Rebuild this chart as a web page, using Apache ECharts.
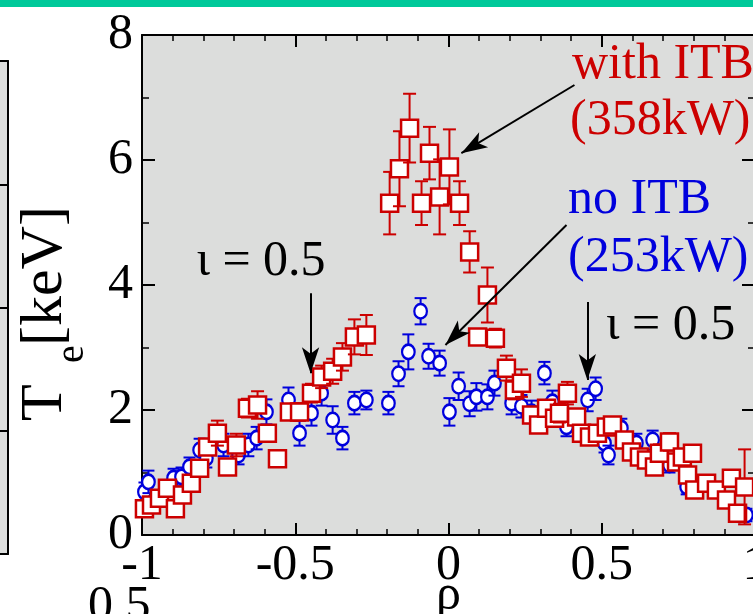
<!DOCTYPE html>
<html>
<head>
<meta charset="utf-8">
<script src="https://cdn.jsdelivr.net/npm/echarts@6/dist/echarts.min.js"></script>
<style>
  html, body { margin: 0; padding: 0; background: #fff; }
  #chart { width: 753px; height: 614px; }
</style>
</head>
<body>
<div id="chart"></div>
<script>
// with ITB (358kW): rho, Te [keV], error
const redRho = [-0.992, -0.969, -0.943, -0.917, -0.891, -0.868, -0.839, -0.812, -0.786, -0.754,
  -0.721, -0.692, -0.656, -0.623, -0.591, -0.558, -0.519, -0.486, -0.447, -0.414,
  -0.378, -0.346, -0.307, -0.268, -0.192, -0.160, -0.127, -0.088, -0.062, -0.029,
  0.003, 0.036, 0.069, 0.127, 0.095, 0.153, 0.189, 0.215, 0.238, 0.271,
  0.294, 0.320, 0.346, 0.362, 0.388, 0.418, 0.434, 0.460, 0.486, 0.515,
  0.535, 0.574, 0.597, 0.623, 0.646, 0.672, 0.688, 0.721, 0.744, 0.763,
  0.780, 0.796, 0.803, 0.842, 0.874, 0.907, 0.923, 0.943, 0.966];
const redTe = [0.42, 0.48, 0.59, 0.75, 0.42, 0.64, 0.83, 1.07, 1.41, 1.63,
  1.09, 1.44, 2.03, 2.08, 1.63, 1.22, 1.97, 1.97, 2.27, 2.53,
  2.62, 2.85, 3.17, 3.20, 5.31, 5.86, 6.51, 5.31, 6.11, 5.41,
  5.89, 5.31, 4.53, 3.84, 3.17, 3.15, 2.67, 2.32, 2.43, 1.92,
  1.76, 2.03, 1.87, 1.95, 2.27, 1.89, 1.63, 1.57, 1.63, 1.73,
  1.76, 1.52, 1.33, 1.25, 1.20, 1.09, 1.31, 1.49, 1.17, 1.25,
  0.96, 1.31, 0.72, 0.83, 0.72, 0.56, 0.91, 0.35, 0.77];
const redErr = [0.05, 0.06, 0.07, 0.08, 0.06, 0.07, 0.08, 0.10, 0.12, 0.20,
  0.10, 0.18, 0.15, 0.22, 0.10, 0.08, 0.12, 0.14, 0.15, 0.18,
  0.20, 0.22, 0.28, 0.32, 0.50, 0.60, 0.55, 0.35, 0.42, 0.60,
  0.60, 0.35, 0.33, 0.44, 0.12, 0.15, 0.20, 0.15, 0.22, 0.12,
  0.10, 0.12, 0.12, 0.15, 0.18, 0.12, 0.10, 0.10, 0.10, 0.12,
  0.12, 0.10, 0.10, 0.10, 0.10, 0.08, 0.14, 0.14, 0.10, 0.10,
  0.08, 0.12, 0.08, 0.08, 0.08, 0.08, 0.12, 0.06, 0.60];

// no ITB (253kW)
const blueRho = [-0.992, -0.979, -0.897, -0.871, -0.845, -0.812, -0.790, -0.734, -0.685, -0.653,
  -0.626, -0.594, -0.522, -0.486, -0.447, -0.414, -0.378, -0.346, -0.307, -0.268,
  -0.196, -0.163, -0.131, -0.091, -0.065, -0.029, 0.003, 0.033, 0.069, 0.091,
  0.127, 0.150, 0.206, 0.238, 0.271, 0.313, 0.339, 0.385, 0.454, 0.480,
  0.509, 0.522, 0.564, 0.613, 0.666, 0.721, 0.777, 0.949, 0.972];
const blueTe = [0.69, 0.85, 0.91, 0.93, 1.09, 1.36, 1.23, 1.44, 1.28, 1.44,
  1.55, 1.97, 2.16, 1.63, 1.95, 2.27, 1.84, 1.55, 2.11, 2.16,
  2.11, 2.58, 2.93, 3.58, 2.86, 2.75, 1.97, 2.38, 2.10, 2.21,
  2.21, 2.43, 2.11, 2.06, 1.97, 2.59, 2.13, 1.73, 2.16, 2.34,
  1.47, 1.28, 1.71, 1.47, 1.52, 1.12, 0.77, 0.32, 0.32];
const blueErr = [0.15, 0.18, 0.15, 0.15, 0.15, 0.18, 0.15, 0.18, 0.15, 0.18,
  0.18, 0.20, 0.20, 0.20, 0.20, 0.20, 0.22, 0.18, 0.18, 0.15,
  0.18, 0.20, 0.28, 0.21, 0.20, 0.20, 0.22, 0.22, 0.20, 0.22,
  0.20, 0.20, 0.18, 0.18, 0.18, 0.18, 0.18, 0.15, 0.18, 0.18,
  0.15, 0.15, 0.15, 0.15, 0.15, 0.12, 0.12, 0.10, 0.10];

const xTicks = [-1, -0.5, 0, 0.5, 1];
const yTicks = [0, 2, 4, 6, 8];

// arrows: [from, to] in data coords
const arrows = [
  [[-0.45, 3.87], [-0.45, 2.59]],
  [[0.453, 3.73], [0.453, 2.48]],
  [[0.411, 7.2], [0.042, 6.11]],
  [[0.385, 4.96], [-0.01, 3.04]],
];

const RED = "#cc0000";
const BLUE = "#0000dd";
const FONT = "'Liberation Serif', 'Times New Roman', serif";

function zip(xs, ys, es) {
  return xs.map((x, i) => [x, ys[i], es[i]]);
}

function errRender(kind) {
  return function (params, api) {
    const x = api.value(0), y = api.value(1), e = api.value(2);
    const c = api.coord([x, y]);
    const t = api.coord([x, y + e]);
    const b = api.coord([x, y - e]);
    const color = kind === "red" ? RED : BLUE;
    const cap = kind === "red" ? 6.5 : 6;
    const ls = { stroke: color, lineWidth: 2 };
    const children = [
      { type: "line", shape: { x1: c[0], y1: t[1], x2: c[0], y2: b[1] }, style: ls },
      { type: "line", shape: { x1: c[0] - cap, y1: t[1], x2: c[0] + cap, y2: t[1] }, style: ls },
      { type: "line", shape: { x1: c[0] - cap, y1: b[1], x2: c[0] + cap, y2: b[1] }, style: ls },
    ];
    if (kind === "red") {
      children.push({ type: "rect", shape: { x: c[0] - 8.5, y: c[1] - 8.5, width: 17, height: 17 },
        style: { fill: "#fff", stroke: RED, lineWidth: 2.5 } });
    } else {
      children.push({ type: "circle", x: c[0], y: c[1], scaleY: 1.15, shape: { cx: 0, cy: 0, r: 6.3 },
        style: { fill: "#fff", stroke: BLUE, lineWidth: 2.2 } });
    }
    return { type: "group", children };
  };
}

const tickLabel = { color: "#000", fontFamily: FONT, fontSize: 50 };
const blackLine = { lineStyle: { color: "#000", width: 2 } };

const chart = echarts.init(document.getElementById("chart"), null, { renderer: "canvas" });

chart.setOption({
  animation: false,
  backgroundColor: "#fff",
  grid: [
    { left: 142, top: 35, width: 613, height: 500, show: true, backgroundColor: "#dcdddc", borderWidth: 0,
      outerBoundsMode: "none", containLabel: false },
    { left: -100, top: 61, width: 108, height: 493, show: true, backgroundColor: "#dcdddc", borderWidth: 0,
      outerBoundsMode: "none", containLabel: false },
  ],
  xAxis: [
    {
      gridIndex: 0, type: "value", min: -1, max: 1, interval: 0.5, position: "bottom",
      name: "ρ", nameLocation: "middle", nameGap: 36, nameMoveOverlap: false,
      nameTextStyle: { color: "#000", fontFamily: FONT, fontSize: 50 },
      axisLine: { show: true, onZero: false, ...blackLine },
      axisTick: { show: true, inside: true, length: 12, ...blackLine },
      minorTick: { show: true, splitNumber: 5, length: 6, lineStyle: { color: "#000", width: 1.5 } },
      axisLabel: { ...tickLabel, margin: 6, formatter: (v) => (xTicks.includes(v) ? String(v) : "") },
      splitLine: { show: false },
    },
    {
      gridIndex: 0, type: "value", min: -1, max: 1, interval: 0.5, position: "top",
      axisLine: { show: true, onZero: false, ...blackLine },
      axisTick: { show: true, inside: true, length: 12, ...blackLine },
      minorTick: { show: true, splitNumber: 5, length: 6, lineStyle: { color: "#000", width: 1.5 } },
      axisLabel: { show: false },
      splitLine: { show: false },
    },
    {
      gridIndex: 1, type: "value", min: 0, max: 1, position: "bottom",
      axisLine: { show: true, onZero: false, ...blackLine },
      axisTick: { show: false }, axisLabel: { show: false }, splitLine: { show: false },
    },
    {
      gridIndex: 1, type: "value", min: 0, max: 1, position: "top",
      axisLine: { show: true, onZero: false, ...blackLine },
      axisTick: { show: false }, axisLabel: { show: false }, splitLine: { show: false },
    },
  ],
  yAxis: [
    {
      gridIndex: 0, type: "value", min: 0, max: 8, interval: 2, position: "left",
      axisLine: { show: true, onZero: false, ...blackLine },
      axisTick: { show: true, inside: true, length: 13, ...blackLine },
      minorTick: { show: true, splitNumber: 2, length: 7, lineStyle: { color: "#000", width: 1.5 } },
      axisLabel: { ...tickLabel, margin: 9, formatter: (v) => (yTicks.includes(v) ? String(v) : "") },
      splitLine: { show: false },
    },
    {
      gridIndex: 0, type: "value", min: 0, max: 8, interval: 2, position: "right",
      axisLine: { show: true, onZero: false, ...blackLine },
      axisTick: { show: true, inside: true, length: 13, ...blackLine },
      minorTick: { show: true, splitNumber: 2, length: 7, lineStyle: { color: "#000", width: 1.5 } },
      axisLabel: { show: false },
      splitLine: { show: false },
    },
    {
      gridIndex: 1, type: "value", min: 0, max: 4, interval: 1, position: "right",
      axisLine: { show: true, onZero: false, ...blackLine },
      axisTick: { show: true, inside: true, length: 8, ...blackLine },
      axisLabel: { show: false }, splitLine: { show: false },
    },
  ],
  series: [
    {
      name: "no ITB (253kW)", type: "custom", xAxisIndex: 0, yAxisIndex: 0,
      data: zip(blueRho, blueTe, blueErr), encode: { x: 0, y: 1 },
      renderItem: errRender("blue"), z: 2, silent: true,
    },
    {
      name: "with ITB (358kW)", type: "custom", xAxisIndex: 0, yAxisIndex: 0,
      data: zip(redRho, redTe, redErr), encode: { x: 0, y: 1 },
      renderItem: errRender("red"), z: 3, silent: true,
    },
    {
      name: "arrows", type: "line", xAxisIndex: 0, yAxisIndex: 0, data: [], z: 4,
      markLine: {
        silent: true, animation: false,
        symbol: ["none", "arrow"], symbolSize: [13, 26],
        label: { show: false },
        lineStyle: { color: "#000", width: 2, type: "solid" },
        data: arrows.map(([a, b]) => [{ coord: a }, { coord: b }]),
      },
    },
  ],
  graphic: [
    { type: "rect", left: 0, top: 0, shape: { width: 753, height: 7 }, style: { fill: "#00c99a" } },
    // y axis name: T_e [keV]
    { type: "text", x: 45, y: 421, rotation: Math.PI / 2,
      style: { text: "T", font: "60px " + FONT, fill: "#000", align: "left", verticalAlign: "middle" } },
    { type: "text", x: 72, y: 363, rotation: Math.PI / 2,
      style: { text: "e", font: "40px " + FONT, fill: "#000", align: "left", verticalAlign: "middle" } },
    { type: "text", x: 45, y: 346, rotation: Math.PI / 2,
      style: { text: "[keV]", font: "60px " + FONT, fill: "#000", align: "left", verticalAlign: "middle" } },
    // annotations
    { type: "text", x: 261, y: 262, z: 10,
      style: { text: "ι = 0.5", font: "50px " + FONT, fill: "#000", align: "center", verticalAlign: "middle" } },
    { type: "text", x: 606, y: 326, z: 10,
      style: { text: "ι = 0.5", font: "50px " + FONT, fill: "#000", align: "left", verticalAlign: "middle" } },
    { type: "text", x: 572, y: 65, z: 10,
      style: { text: "with ITB", font: "50px " + FONT, fill: RED, align: "left", verticalAlign: "middle" } },
    { type: "text", x: 570, y: 121, z: 10,
      style: { text: "(358kW)", font: "50px " + FONT, fill: RED, align: "left", verticalAlign: "middle" } },
    { type: "text", x: 568, y: 200, z: 10,
      style: { text: "no ITB", font: "50px " + FONT, fill: BLUE, align: "left", verticalAlign: "middle" } },
    { type: "text", x: 568, y: 258, z: 10,
      style: { text: "(253kW)", font: "50px " + FONT, fill: BLUE, align: "left", verticalAlign: "middle" } },
    // label of the panel below (cut off)
    { type: "text", x: 88, y: 607, z: 10,
      style: { text: "0.5", font: "50px " + FONT, fill: "#000", align: "left", verticalAlign: "middle" } },
  ],
});
</script>
</body>
</html>
